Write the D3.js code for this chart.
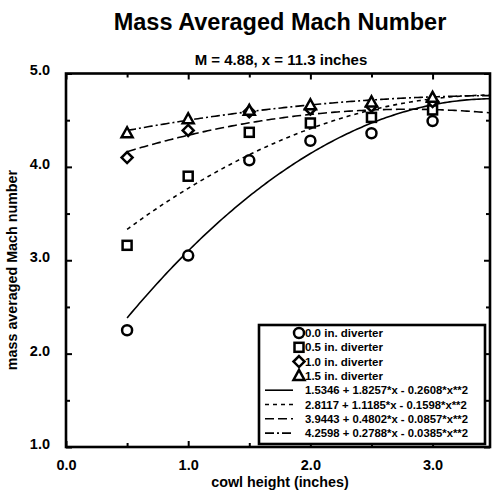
<!DOCTYPE html>
<html>
<head>
<meta charset="utf-8">
<script src="https://cdn.jsdelivr.net/npm/d3@7"></script>
<style>
  html, body { margin: 0; padding: 0; background: #fff; }
  svg { display: block; font-family: "Liberation Sans", Arial, sans-serif; font-weight: bold; }
</style>
</head>
<body>
<svg id="chart" width="495" height="493"></svg>
<script>
// ---- data ----
const cowlHeights = [0.5, 1.0, 1.5, 2.0, 2.5, 3.0];
const seriesNames = ["0.0 in. diverter", "0.5 in. diverter", "1.0 in. diverter", "1.5 in. diverter"];
const div00 = [2.25, 3.05, 4.07, 4.28, 4.36, 4.49];
const div05 = [3.16, 3.90, 4.37, 4.47, 4.53, 4.61];
const div10 = [4.10, 4.39, 4.59, 4.62, 4.65, 4.70];
const div15 = [4.36, 4.51, 4.60, 4.66, 4.69, 4.74];
// quadratic fit coefficients shown in the legend (a + b*x + c*x^2)
const fitA = [1.5346, 2.8117, 3.9443, 4.2598];
const fitB = [1.8257, 1.1185, 0.4802, 0.2788];
const fitC = [-0.2608, -0.1598, -0.0857, -0.0385];
const fitLabels = [
  "1.5346 + 1.8257*x - 0.2608*x**2",
  "2.8117 + 1.1185*x - 0.1598*x**2",
  "3.9443 + 0.4802*x - 0.0857*x**2",
  "4.2598 + 0.2788*x - 0.0385*x**2"
];
const xTicks = [0, 0.5, 1, 1.5, 2, 2.5, 3];
const yTicks = [1, 1.5, 2, 2.5, 3, 3.5, 4, 4.5, 5];
const titleText = "Mass Averaged Mach Number";
const subtitleText = "M = 4.88, x = 11.3 inches";
const xTitle = "cowl height (inches)";
const yTitle = "mass averaged Mach number";

const seriesValues = [div00, div05, div10, div15];

// ---- layout ----
const L = 66, R = 490, T = 73.5, B = 447;
const svg = d3.select("#chart");
const x = d3.scaleLinear().domain([0, 3.47]).range([L, R]);
const y = d3.scaleLinear().domain([1, 5]).range([B, T]);

const dashes = [null, "4,4", "9,4", "9,3,2,3"];
const symbols = ["circle", "square", "diamond", "triangle"];

// titles
svg.append("text").attr("x", 280).attr("y", 30).attr("text-anchor", "middle")
  .attr("font-size", 23.5).text(titleText);
svg.append("text").attr("x", 281).attr("y", 65).attr("text-anchor", "middle")
  .attr("font-size", 15).text(subtitleText);

// clip
svg.append("clipPath").attr("id", "clip").append("rect")
  .attr("x", L).attr("y", T).attr("width", R - L).attr("height", B - T);

// fit curves
const g = svg.append("g").attr("clip-path", "url(#clip)");
const xs = d3.range(0.5, 3.6, 0.02);
fitA.forEach((a, i) => {
  const pts = xs.map(v => [v, a + fitB[i] * v + fitC[i] * v * v]);
  g.append("path")
    .attr("d", d3.line().x(d => x(d[0])).y(d => y(d[1]))(pts))
    .attr("fill", "none").attr("stroke", "#000").attr("stroke-width", 1.6)
    .attr("stroke-dasharray", dashes[i]);
});

function drawSymbol(sel, type, cx, cy) {
  const sw = 2.5;
  if (type === "circle") {
    sel.append("circle").attr("cx", cx).attr("cy", cy).attr("r", 5)
      .attr("fill", "#fff").attr("stroke", "#000").attr("stroke-width", sw);
  } else if (type === "square") {
    sel.append("rect").attr("x", cx - 4.5).attr("y", cy - 4.5).attr("width", 9).attr("height", 9)
      .attr("fill", "#fff").attr("stroke", "#000").attr("stroke-width", sw);
  } else if (type === "diamond") {
    sel.append("path").attr("d", `M${cx},${cy-5.5}L${cx+5.5},${cy}L${cx},${cy+5.5}L${cx-5.5},${cy}Z`)
      .attr("fill", "#fff").attr("stroke", "#000").attr("stroke-width", sw);
  } else {
    sel.append("path").attr("d", `M${cx},${cy-6}L${cx+5.5},${cy+4}L${cx-5.5},${cy+4}Z`)
      .attr("fill", "#fff").attr("stroke", "#000").attr("stroke-width", sw).attr("stroke-linejoin", "miter");
  }
}

// markers
const mg = svg.append("g");
seriesValues.forEach((vals, i) => {
  vals.forEach((v, j) => drawSymbol(mg, symbols[i], x(cowlHeights[j]), y(v)));
});

// frame
svg.append("rect").attr("x", L).attr("y", T).attr("width", R - L).attr("height", B - T)
  .attr("fill", "none").attr("stroke", "#000").attr("stroke-width", 2.6);

// ticks (inward) on all sides
const isMajor = v => Math.abs(v - Math.round(v)) < 1e-9;
function styleAxis(sel) {
  sel.select(".domain").remove();
  sel.selectAll("line").attr("stroke", "#000").attr("stroke-width", 2);
}
const fmt = d3.format(".1f");
svg.append("g").attr("transform", `translate(0,${B})`)
  .call(d3.axisBottom(x).tickValues(xTicks.filter(isMajor)).tickSize(-6).tickPadding(13).tickFormat(fmt))
  .call(styleAxis)
  .selectAll("text").attr("font-size", 14.5).attr("font-family", "Liberation Sans, Arial, sans-serif").attr("font-weight", "bold").attr("fill", "#000");
svg.append("g").attr("transform", `translate(0,${B})`)
  .call(d3.axisBottom(x).tickValues(xTicks.filter(v => !isMajor(v))).tickSize(-4).tickFormat(""))
  .call(styleAxis);
svg.append("g").attr("transform", `translate(0,${T})`)
  .call(d3.axisTop(x).tickValues(xTicks.filter(isMajor)).tickSize(-6).tickFormat(""))
  .call(styleAxis);
svg.append("g").attr("transform", `translate(0,${T})`)
  .call(d3.axisTop(x).tickValues(xTicks.filter(v => !isMajor(v))).tickSize(-4).tickFormat(""))
  .call(styleAxis);

svg.append("g").attr("transform", `translate(${L},0)`)
  .call(d3.axisLeft(y).tickValues(yTicks.filter(isMajor)).tickSize(-6).tickPadding(16).tickFormat(fmt))
  .call(styleAxis)
  .selectAll("text").attr("font-size", 14.5).attr("font-family", "Liberation Sans, Arial, sans-serif").attr("font-weight", "bold").attr("fill", "#000").attr("dy", "0.1em");
svg.append("g").attr("transform", `translate(${L},0)`)
  .call(d3.axisLeft(y).tickValues(yTicks.filter(v => !isMajor(v))).tickSize(-4).tickFormat(""))
  .call(styleAxis);
svg.append("g").attr("transform", `translate(${R},0)`)
  .call(d3.axisRight(y).tickValues(yTicks.filter(isMajor)).tickSize(-6).tickFormat(""))
  .call(styleAxis);
svg.append("g").attr("transform", `translate(${R},0)`)
  .call(d3.axisRight(y).tickValues(yTicks.filter(v => !isMajor(v))).tickSize(-4).tickFormat(""))
  .call(styleAxis);

// axis titles
svg.append("text").attr("x", 280).attr("y", 487).attr("text-anchor", "middle")
  .attr("font-size", 14.3).text(xTitle);
svg.append("text").attr("transform", "translate(17,270) rotate(-90)").attr("text-anchor", "middle")
  .attr("font-size", 14.3).text(yTitle);

// legend
const lg = svg.append("g");
lg.append("rect").attr("x", 259).attr("y", 325).attr("width", 226).attr("height", 119)
  .attr("fill", "#fff").attr("stroke", "#000").attr("stroke-width", 2.6);
const rowY = d3.range(8).map(i => 333 + i * 14.3);
seriesNames.forEach((name, i) => {
  drawSymbol(lg, symbols[i], 299, rowY[i]);
  lg.append("text").attr("x", 305).attr("y", rowY[i] + 4).attr("font-size", 11.5)
    .text(name);
});
fitLabels.forEach((lab, i) => {
  const yy = rowY[i + 4];
  lg.append("line").attr("x1", 265).attr("x2", 293).attr("y1", yy).attr("y2", yy)
    .attr("stroke", "#000").attr("stroke-width", 1.6).attr("stroke-dasharray", dashes[i]);
  lg.append("text").attr("x", 305).attr("y", yy + 4).attr("font-size", 11.3)
    .text(lab);
});
</script>
</body>
</html>
